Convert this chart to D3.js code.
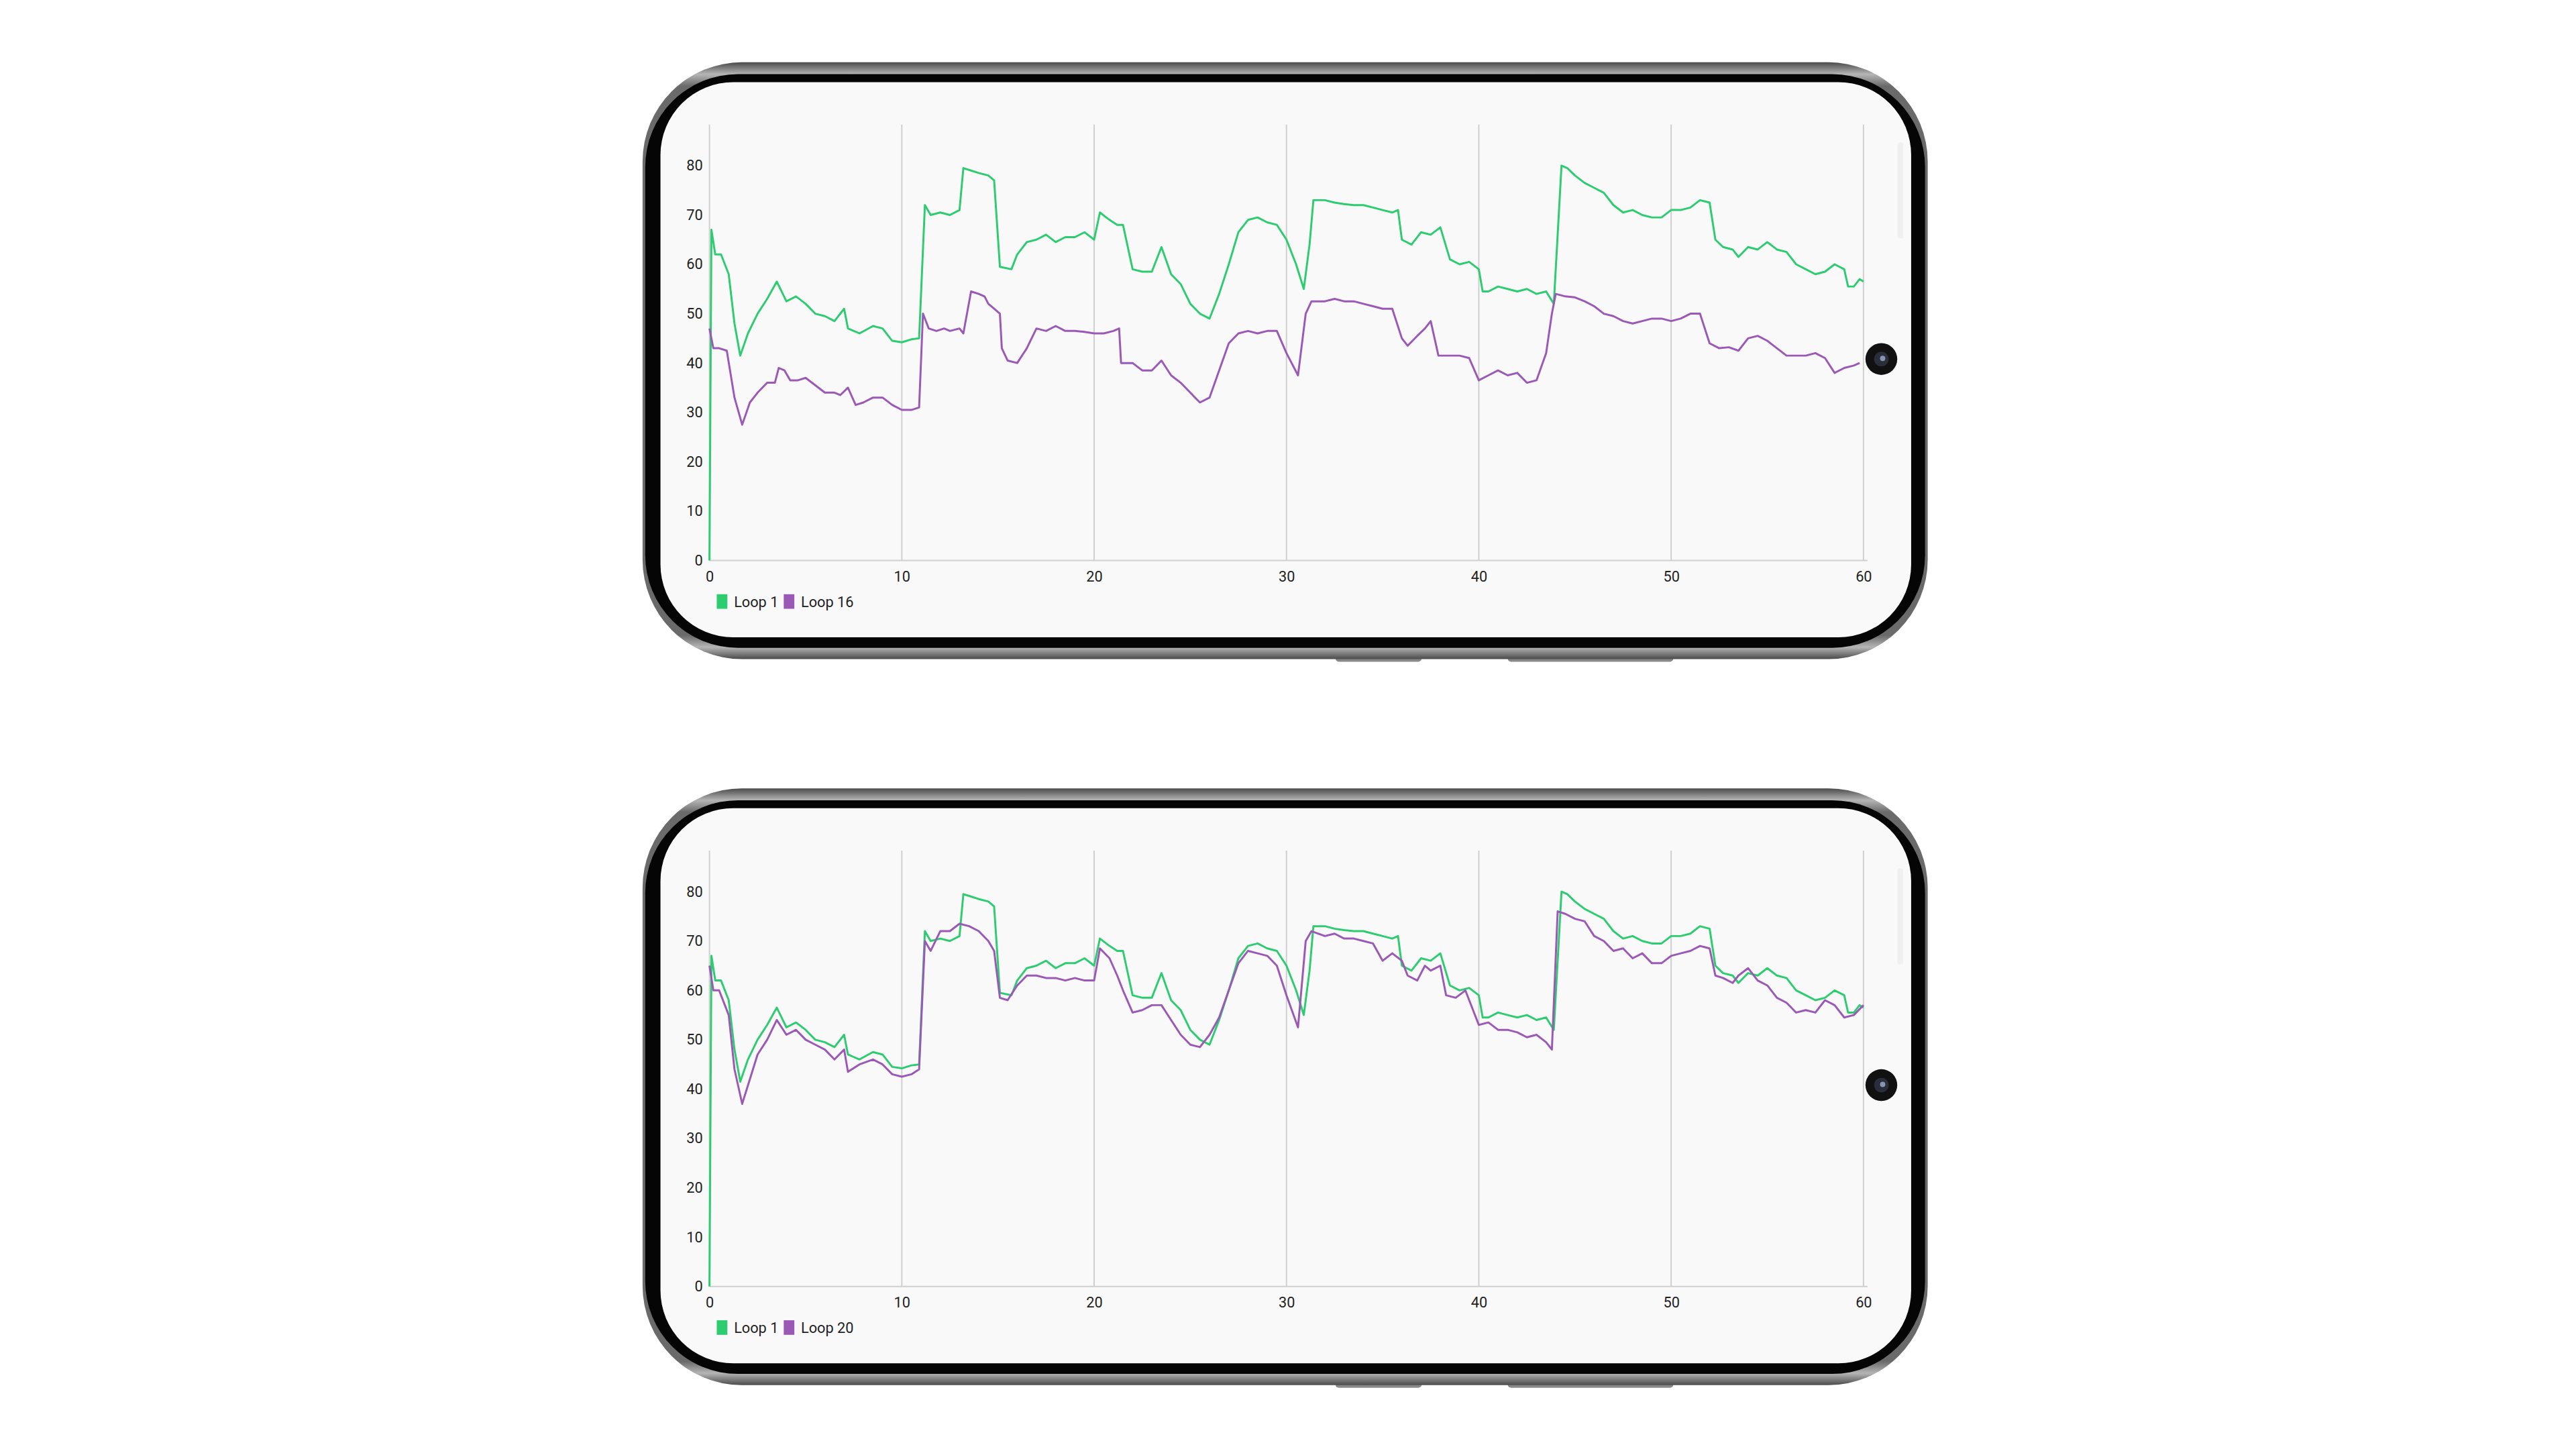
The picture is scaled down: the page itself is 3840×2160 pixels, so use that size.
<!DOCTYPE html>
<html>
<head>
<meta charset="utf-8">
<script src="https://cdn.jsdelivr.net/npm/d3@7"></script>
<style>
  body { margin: 0; background: #fff; }
  svg { display: block; font-family: Roboto, "Noto Sans", sans-serif; }
</style>
</head>
<body>
<script>
// ---- data (t in seconds, value) ----
var loop1 = [[0,0],[0.1,67],[0.3,62],[0.6,62],[1.0,58],[1.3,48],[1.6,41.5],[2.0,46],[2.5,50],[3.0,53],[3.5,56.5],[4.0,52.5],[4.5,53.5],[5.0,52],[5.5,50],[6.0,49.5],[6.5,48.5],[7.0,51],[7.2,47],[7.8,46],[8.5,47.5],[9.0,47],[9.5,44.5],[10.0,44.2],[10.5,44.8],[10.9,45],[11.2,72],[11.5,70],[12.0,70.5],[12.5,70],[13.0,71],[13.2,79.5],[13.6,79],[14.0,78.5],[14.5,78],[14.8,77],[15.1,59.5],[15.7,59],[16.0,62],[16.5,64.5],[17.0,65],[17.5,66],[18,64.5],[18.5,65.5],[19,65.5],[19.5,66.5],[20,65],[20.3,70.5],[20.8,69],[21.2,68],[21.5,68],[22.0,59],[22.5,58.5],[23.0,58.5],[23.5,63.5],[24.0,58],[24.5,56],[25.0,52],[25.5,50],[26.0,49],[26.5,54],[27.0,60],[27.5,66.5],[28.0,69],[28.5,69.5],[29.0,68.5],[29.5,68],[30.0,65],[30.5,60],[30.9,55],[31.2,64],[31.4,73],[32,73],[32.5,72.5],[33,72.2],[33.5,72],[34,72],[34.5,71.5],[35,71],[35.5,70.5],[35.8,71],[36.0,65],[36.5,64],[37,66.5],[37.5,66],[38,67.5],[38.5,61],[39,60],[39.5,60.5],[40.0,59],[40.2,54.5],[40.5,54.5],[41.0,55.5],[41.5,55],[42,54.5],[42.5,55],[43.0,54],[43.5,54.5],[43.9,52],[44.3,80],[44.6,79.5],[45,78],[45.5,76.5],[46,75.5],[46.5,74.5],[47,72],[47.5,70.5],[48,71],[48.5,70],[49,69.5],[49.5,69.5],[50,71],[50.5,71],[51,71.5],[51.5,73],[52,72.5],[52.3,65],[52.7,63.5],[53.2,63],[53.5,61.5],[54,63.5],[54.5,63],[55,64.5],[55.5,63],[56,62.5],[56.5,60],[57,59],[57.5,58],[58,58.5],[58.5,60],[59,59],[59.2,55.5],[59.5,55.5],[59.8,57],[60,56.5]];

var loop16 = [[0,47],[0.2,43],[0.5,43],[0.9,42.5],[1.3,33],[1.7,27.5],[2.1,32],[2.5,34],[3.0,36],[3.4,36],[3.6,39],[3.9,38.5],[4.2,36.5],[4.6,36.5],[5.0,37],[5.5,35.5],[6.0,34],[6.5,34],[6.8,33.5],[7.2,35],[7.6,31.5],[8.0,32],[8.5,33],[9.0,33],[9.5,31.5],[10.0,30.5],[10.5,30.5],[10.9,31],[11.1,50],[11.4,47],[11.8,46.5],[12.2,47],[12.5,46.5],[13,47],[13.2,46],[13.6,54.5],[14,54],[14.3,53.5],[14.5,52],[14.8,51],[15.1,50],[15.2,43],[15.5,40.5],[16.0,40],[16.5,43],[17.0,47],[17.5,46.5],[18.0,47.5],[18.5,46.5],[19,46.5],[19.5,46.3],[20,46],[20.5,46],[21.0,46.5],[21.3,47],[21.4,40],[22,40],[22.5,38.5],[23,38.5],[23.5,40.5],[24.0,37.5],[24.5,36],[25,34],[25.5,32],[26,33],[26.5,38.5],[27,44],[27.5,46],[28,46.5],[28.5,46],[29,46.5],[29.5,46.5],[30,42],[30.6,37.5],[31.0,50],[31.3,52.5],[32,52.5],[32.5,53],[33,52.5],[33.5,52.5],[34,52],[34.5,51.5],[35,51],[35.5,51],[36.0,45],[36.3,43.5],[36.8,45.5],[37.2,47],[37.5,48.5],[37.9,41.5],[38.5,41.5],[39,41.5],[39.5,41],[40.0,36.5],[40.5,37.5],[41,38.5],[41.5,37.5],[42,38],[42.5,36],[43,36.5],[43.5,42],[43.8,50],[44,54],[44.5,53.5],[45,53.3],[45.5,52.5],[46,51.5],[46.5,50],[47,49.5],[47.5,48.5],[48,48],[48.5,48.5],[49,49],[49.5,49],[50,48.5],[50.5,49],[51,50],[51.5,50],[52,44],[52.5,43],[53,43.2],[53.5,42.5],[54,45],[54.5,45.5],[55,44.5],[55.5,43],[56,41.5],[56.5,41.5],[57,41.5],[57.5,42],[58,41],[58.5,38],[59,39],[59.5,39.5],[59.8,40]];

var loop20 = [[0,65],[0.2,60],[0.5,60],[1.0,55],[1.3,44],[1.7,37],[2.1,42],[2.5,47],[3.0,50],[3.5,54],[4.0,51],[4.5,52],[5.0,50],[5.5,49],[6.0,48],[6.5,46],[7.0,48],[7.2,43.5],[7.8,45],[8.5,46],[9.0,45],[9.5,43],[10.0,42.5],[10.5,43],[10.9,44],[11.2,70],[11.5,68],[12,72],[12.5,72],[13,73.5],[13.5,73],[14,72],[14.5,70],[14.8,68],[15.1,58.5],[15.5,58],[16,61],[16.5,63],[17,63],[17.5,62.5],[18,62.5],[18.5,62],[19,62.5],[19.5,62],[20,62],[20.3,68.5],[20.8,66.5],[21.2,63],[21.5,60],[22,55.5],[22.5,56],[23,57],[23.5,57],[24,54],[24.5,51],[25,49],[25.5,48.5],[26,51],[26.5,54.5],[27,60],[27.5,65.5],[28,68],[28.5,67.5],[29,67],[29.5,65],[30,59],[30.6,52.5],[31.0,70],[31.3,72],[32,71],[32.5,71.5],[33,70.5],[33.5,70.5],[34,70],[34.5,69.5],[35,66],[35.5,67.5],[36,66],[36.3,63],[36.8,62],[37.2,65],[37.5,64],[38,65],[38.3,59],[38.8,58.5],[39.3,60],[40.0,53],[40.5,53.5],[41,52],[41.5,52],[42,51.5],[42.5,50.5],[43,51],[43.5,49.5],[43.8,48],[44.1,76],[44.5,75.5],[45,74.5],[45.5,74],[46,71],[46.5,70],[47,68],[47.5,68.5],[48,66.5],[48.5,67.5],[49,65.5],[49.5,65.5],[50,67],[50.5,67.5],[51,68],[51.5,69],[52,68.5],[52.3,63],[52.7,62.5],[53.2,61.5],[53.5,63],[54,64.5],[54.5,62],[55,61],[55.5,58.5],[56,57.5],[56.5,55.5],[57,56],[57.5,55.5],[58,58],[58.5,57],[59,54.5],[59.5,55],[60,57]];

var xTicks = [0, 10, 20, 30, 40, 50, 60];
var yTicks = [0, 10, 20, 30, 40, 50, 60, 70, 80];
var seriesColors = ["#2ecc71", "#9b59b6"];

var charts = [
  {names: ["Loop 1", "Loop 16"], series: [loop1, loop16]},
  {names: ["Loop 1", "Loop 20"], series: [loop1, loop20]}
];

var W = 3840, H = 2160;
var svg = d3.select("body").append("svg").attr("width", W).attr("height", H);

var defs = svg.append("defs");
var grad = defs.append("linearGradient").attr("id", "bezel")
  .attr("x1", 0).attr("y1", 0).attr("x2", 0).attr("y2", 1);
[["0%", "#4a4a4a"], ["2%", "#b5b5b5"], ["4%", "#6a6a6a"], ["96%", "#6a6a6a"], ["98%", "#b5b5b5"], ["100%", "#4a4a4a"]]
  .forEach(function (s) { grad.append("stop").attr("offset", s[0]).attr("stop-color", s[1]); });

// whole drawing laid out on a slightly larger grid, scaled to fit
var root = svg.append("g").attr("transform", "scale(0.9875)");

function drawPhone(g) {
  // side buttons
  g.append("rect").attr("x", 2016).attr("y", 985).attr("width", 130).attr("height", 14).attr("rx", 5).attr("fill", "#888");
  g.append("rect").attr("x", 2276).attr("y", 985).attr("width", 250).attr("height", 14).attr("rx", 5).attr("fill", "#888");
  g.append("rect").attr("x", 970).attr("y", 94).attr("width", 1940).attr("height", 901).attr("rx", 150).attr("fill", "url(#bezel)");
  g.append("rect").attr("x", 974).attr("y", 112).attr("width", 1932).attr("height", 866).attr("rx", 140).attr("fill", "#050505");
  g.append("rect").attr("x", 997).attr("y", 124).attr("width", 1888).attr("height", 838).attr("rx", 110).attr("fill", "#f9f9f9");
  g.append("rect").attr("x", 2864).attr("y", 215).attr("width", 9).attr("height", 145).attr("rx", 4).attr("fill", "#f0f0f0");
  g.append("circle").attr("cx", 2840).attr("cy", 542).attr("r", 24).attr("fill", "#111");
  g.append("circle").attr("cx", 2840).attr("cy", 542).attr("r", 11).attr("fill", "#2a2d3a");
  g.append("circle").attr("cx", 2842).attr("cy", 541).attr("r", 4).attr("fill", "#8a93b0");
}

var x = d3.scaleLinear().domain([0, 60]).range([1071, 2813]);
var y = d3.scaleLinear().domain([0, 80]).range([846, 250]);

charts.forEach(function (c, ci) {
  var g = root.append("g").attr("transform", "translate(0," + (ci * 1096) + ")");
  drawPhone(g);

  // vertical grid
  g.selectAll("line.grid").data(xTicks).enter().append("line")
    .attr("x1", d => x(d)).attr("x2", d => x(d))
    .attr("y1", 188).attr("y2", 846)
    .attr("stroke", "#cfcfcf").attr("stroke-width", 2);
  g.append("line").attr("x1", x(0)).attr("x2", x(60) + 6)
    .attr("y1", 846).attr("y2", 846).attr("stroke", "#cfcfcf").attr("stroke-width", 2);

  // y axis
  var ya = g.append("g").attr("transform", "translate(" + (x(0) - 6) + ",0)")
    .call(d3.axisLeft(y).tickValues(yTicks).tickSize(0).tickPadding(4));
  ya.select(".domain").remove();
  ya.selectAll("text").style("font-size", "22px").style("fill", "#222").style("font-family", "Roboto");

  var xa = g.append("g").attr("transform", "translate(0,858)")
    .call(d3.axisBottom(x).tickValues(xTicks).tickSize(0).tickPadding(4));
  xa.select(".domain").remove();
  xa.selectAll("text").style("font-size", "22px").style("fill", "#222").style("font-family", "Roboto");

  var line = d3.line().x(d => x(d[0])).y(d => y(d[1]));
  c.series.forEach(function (s, si) {
    g.append("path").datum(s).attr("d", line)
      .attr("fill", "none").attr("stroke", seriesColors[si])
      .attr("stroke-width", 3).attr("stroke-linejoin", "round");
  });

  // legend
  var lx = 1082;
  c.names.forEach(function (n, i) {
    g.append("rect").attr("x", lx).attr("y", 897).attr("width", 16).attr("height", 22).attr("fill", seriesColors[i]);
    var t = g.append("text").attr("x", lx + 26).attr("y", 916).text(n)
      .style("font-size", "22px").style("fill", "#222");
    lx += 26 + t.node().getComputedTextLength() + 8;
  });
});
</script>
</body>
</html>
